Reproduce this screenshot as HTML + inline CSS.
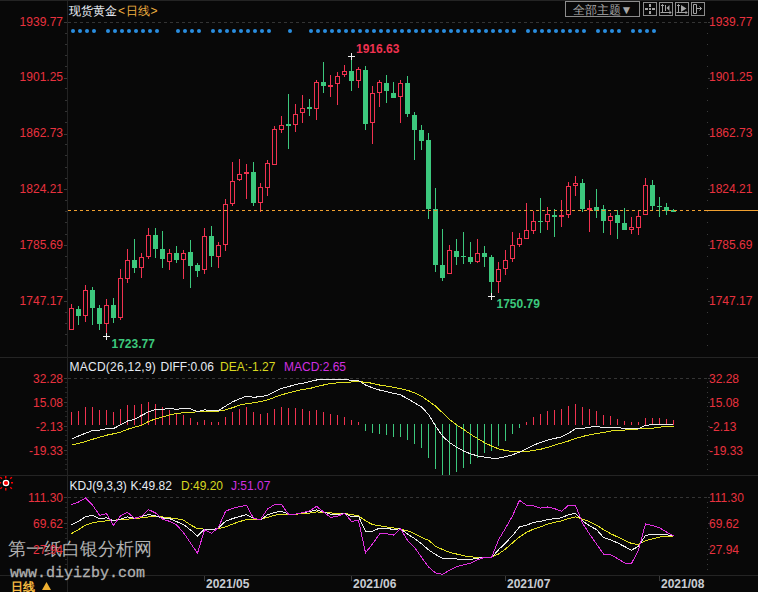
<!DOCTYPE html>
<html><head><meta charset="utf-8"><style>
html,body{margin:0;padding:0;background:#080808;width:758px;height:592px;overflow:hidden;position:relative;}
</style></head><body>
<svg width="758" height="592" style="position:absolute;left:0;top:0">
<style>
text{font-family:"Liberation Sans",sans-serif;}
.ax{font-size:12px;}
.bd{font-size:12px;font-weight:bold;}
.dt{font-size:12px;font-weight:bold;fill:#c8ccd2;}
.tt{font-size:12px;}
</style>
<rect width="758" height="592" fill="#080808"/>
<rect x="0" y="0" width="758" height="1" fill="#242424"/><rect x="0" y="357" width="758" height="1" fill="#242424"/><rect x="0" y="475" width="758" height="1" fill="#242424"/><rect x="0" y="575" width="758" height="1" fill="#242424"/><rect x="67" y="0" width="1" height="592" fill="#232323"/><line x1="68" y1="22.5" x2="707" y2="22.5" stroke="#343434" stroke-width="1" stroke-dasharray="3 3"/><line x1="68" y1="378.5" x2="707" y2="378.5" stroke="#343434" stroke-width="1" stroke-dasharray="3 3"/><line x1="68" y1="497.5" x2="707" y2="497.5" stroke="#343434" stroke-width="1" stroke-dasharray="3 3"/><rect x="64" y="22" width="3" height="1" fill="#3a3a3a"/><rect x="708" y="22" width="2" height="1" fill="#3a3a3a"/><rect x="64" y="78" width="3" height="1" fill="#3a3a3a"/><rect x="708" y="78" width="2" height="1" fill="#3a3a3a"/><rect x="64" y="134" width="3" height="1" fill="#3a3a3a"/><rect x="708" y="134" width="2" height="1" fill="#3a3a3a"/><rect x="64" y="189" width="3" height="1" fill="#3a3a3a"/><rect x="708" y="189" width="2" height="1" fill="#3a3a3a"/><rect x="64" y="245" width="3" height="1" fill="#3a3a3a"/><rect x="708" y="245" width="2" height="1" fill="#3a3a3a"/><rect x="64" y="301" width="3" height="1" fill="#3a3a3a"/><rect x="708" y="301" width="2" height="1" fill="#3a3a3a"/><rect x="65" y="33" width="2" height="1" fill="#333"/><rect x="707" y="33" width="1" height="1" fill="#3a3a3a"/><rect x="65" y="44" width="2" height="1" fill="#333"/><rect x="707" y="44" width="1" height="1" fill="#3a3a3a"/><rect x="65" y="55" width="2" height="1" fill="#333"/><rect x="707" y="55" width="1" height="1" fill="#3a3a3a"/><rect x="65" y="66" width="2" height="1" fill="#333"/><rect x="707" y="66" width="1" height="1" fill="#3a3a3a"/><rect x="65" y="88" width="2" height="1" fill="#333"/><rect x="707" y="88" width="1" height="1" fill="#3a3a3a"/><rect x="65" y="100" width="2" height="1" fill="#333"/><rect x="707" y="100" width="1" height="1" fill="#3a3a3a"/><rect x="65" y="111" width="2" height="1" fill="#333"/><rect x="707" y="111" width="1" height="1" fill="#3a3a3a"/><rect x="65" y="122" width="2" height="1" fill="#333"/><rect x="707" y="122" width="1" height="1" fill="#3a3a3a"/><rect x="65" y="144" width="2" height="1" fill="#333"/><rect x="707" y="144" width="1" height="1" fill="#3a3a3a"/><rect x="65" y="155" width="2" height="1" fill="#333"/><rect x="707" y="155" width="1" height="1" fill="#3a3a3a"/><rect x="65" y="167" width="2" height="1" fill="#333"/><rect x="707" y="167" width="1" height="1" fill="#3a3a3a"/><rect x="65" y="178" width="2" height="1" fill="#333"/><rect x="707" y="178" width="1" height="1" fill="#3a3a3a"/><rect x="65" y="200" width="2" height="1" fill="#333"/><rect x="707" y="200" width="1" height="1" fill="#3a3a3a"/><rect x="65" y="211" width="2" height="1" fill="#333"/><rect x="707" y="211" width="1" height="1" fill="#3a3a3a"/><rect x="65" y="222" width="2" height="1" fill="#333"/><rect x="707" y="222" width="1" height="1" fill="#3a3a3a"/><rect x="65" y="234" width="2" height="1" fill="#333"/><rect x="707" y="234" width="1" height="1" fill="#3a3a3a"/><rect x="65" y="256" width="2" height="1" fill="#333"/><rect x="707" y="256" width="1" height="1" fill="#3a3a3a"/><rect x="65" y="267" width="2" height="1" fill="#333"/><rect x="707" y="267" width="1" height="1" fill="#3a3a3a"/><rect x="65" y="278" width="2" height="1" fill="#333"/><rect x="707" y="278" width="1" height="1" fill="#3a3a3a"/><rect x="65" y="289" width="2" height="1" fill="#333"/><rect x="707" y="289" width="1" height="1" fill="#3a3a3a"/><rect x="65" y="312" width="2" height="1" fill="#333"/><rect x="707" y="312" width="1" height="1" fill="#3a3a3a"/><rect x="65" y="323" width="2" height="1" fill="#333"/><rect x="707" y="323" width="1" height="1" fill="#3a3a3a"/><rect x="65" y="334" width="2" height="1" fill="#333"/><rect x="707" y="334" width="1" height="1" fill="#3a3a3a"/><rect x="65" y="345" width="2" height="1" fill="#333"/><rect x="707" y="345" width="1" height="1" fill="#3a3a3a"/><rect x="64" y="378" width="3" height="1" fill="#3a3a3a"/><rect x="708" y="378" width="2" height="1" fill="#3a3a3a"/><rect x="64" y="402" width="3" height="1" fill="#3a3a3a"/><rect x="708" y="402" width="2" height="1" fill="#3a3a3a"/><rect x="64" y="426" width="3" height="1" fill="#3a3a3a"/><rect x="708" y="426" width="2" height="1" fill="#3a3a3a"/><rect x="64" y="450" width="3" height="1" fill="#3a3a3a"/><rect x="708" y="450" width="2" height="1" fill="#3a3a3a"/><rect x="65" y="382" width="2" height="1" fill="#262626"/><rect x="707" y="382" width="1" height="1" fill="#3a3a3a"/><rect x="65" y="387" width="2" height="1" fill="#262626"/><rect x="707" y="387" width="1" height="1" fill="#3a3a3a"/><rect x="65" y="392" width="2" height="1" fill="#262626"/><rect x="707" y="392" width="1" height="1" fill="#3a3a3a"/><rect x="65" y="397" width="2" height="1" fill="#262626"/><rect x="707" y="397" width="1" height="1" fill="#3a3a3a"/><rect x="65" y="406" width="2" height="1" fill="#262626"/><rect x="707" y="406" width="1" height="1" fill="#3a3a3a"/><rect x="65" y="411" width="2" height="1" fill="#262626"/><rect x="707" y="411" width="1" height="1" fill="#3a3a3a"/><rect x="65" y="416" width="2" height="1" fill="#262626"/><rect x="707" y="416" width="1" height="1" fill="#3a3a3a"/><rect x="65" y="421" width="2" height="1" fill="#262626"/><rect x="707" y="421" width="1" height="1" fill="#3a3a3a"/><rect x="65" y="430" width="2" height="1" fill="#262626"/><rect x="707" y="430" width="1" height="1" fill="#3a3a3a"/><rect x="65" y="435" width="2" height="1" fill="#262626"/><rect x="707" y="435" width="1" height="1" fill="#3a3a3a"/><rect x="65" y="440" width="2" height="1" fill="#262626"/><rect x="707" y="440" width="1" height="1" fill="#3a3a3a"/><rect x="65" y="445" width="2" height="1" fill="#262626"/><rect x="707" y="445" width="1" height="1" fill="#3a3a3a"/><rect x="65" y="454" width="2" height="1" fill="#262626"/><rect x="707" y="454" width="1" height="1" fill="#3a3a3a"/><rect x="65" y="459" width="2" height="1" fill="#262626"/><rect x="707" y="459" width="1" height="1" fill="#3a3a3a"/><rect x="65" y="464" width="2" height="1" fill="#262626"/><rect x="707" y="464" width="1" height="1" fill="#3a3a3a"/><rect x="65" y="469" width="2" height="1" fill="#262626"/><rect x="707" y="469" width="1" height="1" fill="#3a3a3a"/><rect x="64" y="497" width="3" height="1" fill="#3a3a3a"/><rect x="708" y="497" width="2" height="1" fill="#3a3a3a"/><rect x="64" y="523" width="3" height="1" fill="#3a3a3a"/><rect x="708" y="523" width="2" height="1" fill="#3a3a3a"/><rect x="64" y="549" width="3" height="1" fill="#3a3a3a"/><rect x="708" y="549" width="2" height="1" fill="#3a3a3a"/><rect x="65" y="502" width="2" height="1" fill="#262626"/><rect x="707" y="502" width="1" height="1" fill="#3a3a3a"/><rect x="65" y="507" width="2" height="1" fill="#262626"/><rect x="707" y="507" width="1" height="1" fill="#3a3a3a"/><rect x="65" y="512" width="2" height="1" fill="#262626"/><rect x="707" y="512" width="1" height="1" fill="#3a3a3a"/><rect x="65" y="517" width="2" height="1" fill="#262626"/><rect x="707" y="517" width="1" height="1" fill="#3a3a3a"/><rect x="65" y="528" width="2" height="1" fill="#262626"/><rect x="707" y="528" width="1" height="1" fill="#3a3a3a"/><rect x="65" y="533" width="2" height="1" fill="#262626"/><rect x="707" y="533" width="1" height="1" fill="#3a3a3a"/><rect x="65" y="538" width="2" height="1" fill="#262626"/><rect x="707" y="538" width="1" height="1" fill="#3a3a3a"/><rect x="65" y="543" width="2" height="1" fill="#262626"/><rect x="707" y="543" width="1" height="1" fill="#3a3a3a"/><rect x="65" y="554" width="2" height="1" fill="#262626"/><rect x="707" y="554" width="1" height="1" fill="#3a3a3a"/><rect x="65" y="559" width="2" height="1" fill="#262626"/><rect x="707" y="559" width="1" height="1" fill="#3a3a3a"/><rect x="65" y="564" width="2" height="1" fill="#262626"/><rect x="707" y="564" width="1" height="1" fill="#3a3a3a"/><rect x="65" y="569" width="2" height="1" fill="#262626"/><rect x="707" y="569" width="1" height="1" fill="#3a3a3a"/><rect x="204" y="576" width="1" height="5" fill="#3a3a3a"/><rect x="351" y="576" width="1" height="5" fill="#3a3a3a"/><rect x="505" y="576" width="1" height="5" fill="#3a3a3a"/><rect x="659" y="576" width="1" height="5" fill="#3a3a3a"/>
<circle cx="73" cy="31" r="2" fill="#2a8ee0"/><circle cx="80" cy="31" r="2" fill="#2a8ee0"/><circle cx="87" cy="31" r="2" fill="#2a8ee0"/><circle cx="94" cy="31" r="2" fill="#2a8ee0"/><circle cx="108" cy="31" r="2" fill="#2a8ee0"/><circle cx="115" cy="31" r="2" fill="#2a8ee0"/><circle cx="122" cy="31" r="2" fill="#2a8ee0"/><circle cx="129" cy="31" r="2" fill="#2a8ee0"/><circle cx="136" cy="31" r="2" fill="#2a8ee0"/><circle cx="143" cy="31" r="2" fill="#2a8ee0"/><circle cx="150" cy="31" r="2" fill="#2a8ee0"/><circle cx="157" cy="31" r="2" fill="#2a8ee0"/><circle cx="178" cy="31" r="2" fill="#2a8ee0"/><circle cx="185" cy="31" r="2" fill="#2a8ee0"/><circle cx="192" cy="31" r="2" fill="#2a8ee0"/><circle cx="199" cy="31" r="2" fill="#2a8ee0"/><circle cx="213" cy="31" r="2" fill="#2a8ee0"/><circle cx="220" cy="31" r="2" fill="#2a8ee0"/><circle cx="227" cy="31" r="2" fill="#2a8ee0"/><circle cx="234" cy="31" r="2" fill="#2a8ee0"/><circle cx="241" cy="31" r="2" fill="#2a8ee0"/><circle cx="248" cy="31" r="2" fill="#2a8ee0"/><circle cx="255" cy="31" r="2" fill="#2a8ee0"/><circle cx="262" cy="31" r="2" fill="#2a8ee0"/><circle cx="269" cy="31" r="2" fill="#2a8ee0"/><circle cx="290" cy="31" r="2" fill="#2a8ee0"/><circle cx="311" cy="31" r="2" fill="#2a8ee0"/><circle cx="318" cy="31" r="2" fill="#2a8ee0"/><circle cx="325" cy="31" r="2" fill="#2a8ee0"/><circle cx="332" cy="31" r="2" fill="#2a8ee0"/><circle cx="339" cy="31" r="2" fill="#2a8ee0"/><circle cx="346" cy="31" r="2" fill="#2a8ee0"/><circle cx="353" cy="31" r="2" fill="#2a8ee0"/><circle cx="360" cy="31" r="2" fill="#2a8ee0"/><circle cx="367" cy="31" r="2" fill="#2a8ee0"/><circle cx="374" cy="31" r="2" fill="#2a8ee0"/><circle cx="381" cy="31" r="2" fill="#2a8ee0"/><circle cx="388" cy="31" r="2" fill="#2a8ee0"/><circle cx="395" cy="31" r="2" fill="#2a8ee0"/><circle cx="402" cy="31" r="2" fill="#2a8ee0"/><circle cx="409" cy="31" r="2" fill="#2a8ee0"/><circle cx="416" cy="31" r="2" fill="#2a8ee0"/><circle cx="423" cy="31" r="2" fill="#2a8ee0"/><circle cx="430" cy="31" r="2" fill="#2a8ee0"/><circle cx="437" cy="31" r="2" fill="#2a8ee0"/><circle cx="444" cy="31" r="2" fill="#2a8ee0"/><circle cx="451" cy="31" r="2" fill="#2a8ee0"/><circle cx="458" cy="31" r="2" fill="#2a8ee0"/><circle cx="465" cy="31" r="2" fill="#2a8ee0"/><circle cx="472" cy="31" r="2" fill="#2a8ee0"/><circle cx="479" cy="31" r="2" fill="#2a8ee0"/><circle cx="486" cy="31" r="2" fill="#2a8ee0"/><circle cx="493" cy="31" r="2" fill="#2a8ee0"/><circle cx="500" cy="31" r="2" fill="#2a8ee0"/><circle cx="507" cy="31" r="2" fill="#2a8ee0"/><circle cx="514" cy="31" r="2" fill="#2a8ee0"/><circle cx="528" cy="31" r="2" fill="#2a8ee0"/><circle cx="535" cy="31" r="2" fill="#2a8ee0"/><circle cx="542" cy="31" r="2" fill="#2a8ee0"/><circle cx="549" cy="31" r="2" fill="#2a8ee0"/><circle cx="556" cy="31" r="2" fill="#2a8ee0"/><circle cx="563" cy="31" r="2" fill="#2a8ee0"/><circle cx="570" cy="31" r="2" fill="#2a8ee0"/><circle cx="577" cy="31" r="2" fill="#2a8ee0"/><circle cx="584" cy="31" r="2" fill="#2a8ee0"/><circle cx="598" cy="31" r="2" fill="#2a8ee0"/><circle cx="605" cy="31" r="2" fill="#2a8ee0"/><circle cx="612" cy="31" r="2" fill="#2a8ee0"/><circle cx="619" cy="31" r="2" fill="#2a8ee0"/><circle cx="633" cy="31" r="2" fill="#2a8ee0"/><circle cx="640" cy="31" r="2" fill="#2a8ee0"/><circle cx="647" cy="31" r="2" fill="#2a8ee0"/><circle cx="654" cy="31" r="2" fill="#2a8ee0"/>
<rect x="71" y="304" width="1" height="26" fill="#f03250"/><rect x="69.5" y="308.5" width="4" height="21" fill="#080808" stroke="#f03250" stroke-width="1"/><rect x="78" y="306" width="1" height="19" fill="#3cc87d"/><rect x="76" y="309" width="5" height="7" fill="#3cc87d"/><rect x="85" y="285" width="1" height="37" fill="#f03250"/><rect x="83.5" y="290.5" width="4" height="25" fill="#080808" stroke="#f03250" stroke-width="1"/><rect x="92" y="287" width="1" height="38" fill="#3cc87d"/><rect x="90" y="290" width="5" height="18" fill="#3cc87d"/><rect x="99" y="305" width="1" height="25" fill="#3cc87d"/><rect x="97" y="308" width="5" height="16" fill="#3cc87d"/><rect x="106" y="299" width="1" height="36" fill="#f03250"/><rect x="104.5" y="305.5" width="4" height="18" fill="#080808" stroke="#f03250" stroke-width="1"/><rect x="113" y="298" width="1" height="25" fill="#3cc87d"/><rect x="111" y="305" width="5" height="13" fill="#3cc87d"/><rect x="120" y="269" width="1" height="51" fill="#f03250"/><rect x="118.5" y="278.5" width="4" height="39" fill="#080808" stroke="#f03250" stroke-width="1"/><rect x="127" y="249" width="1" height="34" fill="#f03250"/><rect x="125.5" y="260.5" width="4" height="18" fill="#080808" stroke="#f03250" stroke-width="1"/><rect x="134" y="239" width="1" height="34" fill="#3cc87d"/><rect x="132" y="260" width="5" height="8" fill="#3cc87d"/><rect x="141" y="253" width="1" height="25" fill="#f03250"/><rect x="139.5" y="257.5" width="4" height="10" fill="#080808" stroke="#f03250" stroke-width="1"/><rect x="148" y="228" width="1" height="31" fill="#f03250"/><rect x="146.5" y="235.5" width="4" height="21" fill="#080808" stroke="#f03250" stroke-width="1"/><rect x="155" y="228" width="1" height="30" fill="#3cc87d"/><rect x="153" y="235" width="5" height="14" fill="#3cc87d"/><rect x="162" y="231" width="1" height="37" fill="#3cc87d"/><rect x="160" y="249" width="5" height="10" fill="#3cc87d"/><rect x="169" y="249" width="1" height="21" fill="#f03250"/><rect x="167.5" y="253.5" width="4" height="8" fill="#080808" stroke="#f03250" stroke-width="1"/><rect x="176" y="246" width="1" height="17" fill="#3cc87d"/><rect x="174" y="253" width="5" height="7" fill="#3cc87d"/><rect x="183" y="250" width="1" height="29" fill="#f03250"/><rect x="181.5" y="253.5" width="4" height="6" fill="#080808" stroke="#f03250" stroke-width="1"/><rect x="190" y="240" width="1" height="48" fill="#3cc87d"/><rect x="188" y="252" width="5" height="14" fill="#3cc87d"/><rect x="197" y="263" width="1" height="14" fill="#3cc87d"/><rect x="195" y="265" width="5" height="6" fill="#3cc87d"/><rect x="204" y="228" width="1" height="46" fill="#f03250"/><rect x="202.5" y="236.5" width="4" height="33" fill="#080808" stroke="#f03250" stroke-width="1"/><rect x="211" y="226" width="1" height="41" fill="#3cc87d"/><rect x="209" y="236" width="5" height="20" fill="#3cc87d"/><rect x="218" y="242" width="1" height="26" fill="#f03250"/><rect x="216.5" y="245.5" width="4" height="11" fill="#080808" stroke="#f03250" stroke-width="1"/><rect x="225" y="199" width="1" height="52" fill="#f03250"/><rect x="223.5" y="204.5" width="4" height="40" fill="#080808" stroke="#f03250" stroke-width="1"/><rect x="232" y="162" width="1" height="44" fill="#f03250"/><rect x="230.5" y="181.5" width="4" height="22" fill="#080808" stroke="#f03250" stroke-width="1"/><rect x="239" y="159" width="1" height="22" fill="#f03250"/><rect x="237.5" y="174.5" width="4" height="5" fill="#080808" stroke="#f03250" stroke-width="1"/><rect x="246" y="164" width="1" height="35" fill="#f03250"/><rect x="244.5" y="172.5" width="4" height="1" fill="#080808" stroke="#f03250" stroke-width="1"/><rect x="253" y="162" width="1" height="44" fill="#3cc87d"/><rect x="251" y="172" width="5" height="31" fill="#3cc87d"/><rect x="260" y="183" width="1" height="29" fill="#f03250"/><rect x="258.5" y="187.5" width="4" height="15" fill="#080808" stroke="#f03250" stroke-width="1"/><rect x="267" y="160" width="1" height="36" fill="#f03250"/><rect x="265.5" y="163.5" width="4" height="24" fill="#080808" stroke="#f03250" stroke-width="1"/><rect x="274" y="126" width="1" height="39" fill="#f03250"/><rect x="272.5" y="129.5" width="4" height="35" fill="#080808" stroke="#f03250" stroke-width="1"/><rect x="281" y="116" width="1" height="17" fill="#f03250"/><rect x="279.5" y="125.5" width="4" height="4" fill="#080808" stroke="#f03250" stroke-width="1"/><rect x="288" y="94" width="1" height="55" fill="#3cc87d"/><rect x="286" y="124" width="5" height="2" fill="#3cc87d"/><rect x="295" y="104" width="1" height="28" fill="#f03250"/><rect x="293.5" y="114.5" width="4" height="10" fill="#080808" stroke="#f03250" stroke-width="1"/><rect x="302" y="95" width="1" height="28" fill="#f03250"/><rect x="300.5" y="108.5" width="4" height="4" fill="#080808" stroke="#f03250" stroke-width="1"/><rect x="309" y="99" width="1" height="17" fill="#3cc87d"/><rect x="307" y="107" width="5" height="2" fill="#3cc87d"/><rect x="316" y="80" width="1" height="40" fill="#f03250"/><rect x="314.5" y="82.5" width="4" height="26" fill="#080808" stroke="#f03250" stroke-width="1"/><rect x="323" y="62" width="1" height="31" fill="#3cc87d"/><rect x="321" y="82" width="5" height="4" fill="#3cc87d"/><rect x="330" y="75" width="1" height="22" fill="#f03250"/><rect x="328.5" y="85.5" width="4" height="1" fill="#080808" stroke="#f03250" stroke-width="1"/><rect x="337" y="72" width="1" height="33" fill="#f03250"/><rect x="335.5" y="76.5" width="4" height="7" fill="#080808" stroke="#f03250" stroke-width="1"/><rect x="344" y="65" width="1" height="12" fill="#f03250"/><rect x="342.5" y="71.5" width="4" height="3" fill="#080808" stroke="#f03250" stroke-width="1"/><rect x="351" y="56" width="1" height="35" fill="#3cc87d"/><rect x="349" y="71" width="5" height="10" fill="#3cc87d"/><rect x="358" y="67" width="1" height="21" fill="#f03250"/><rect x="356.5" y="69.5" width="4" height="11" fill="#080808" stroke="#f03250" stroke-width="1"/><rect x="365" y="66" width="1" height="64" fill="#3cc87d"/><rect x="363" y="70" width="5" height="54" fill="#3cc87d"/><rect x="372" y="86" width="1" height="58" fill="#f03250"/><rect x="370.5" y="93.5" width="4" height="29" fill="#080808" stroke="#f03250" stroke-width="1"/><rect x="379" y="80" width="1" height="27" fill="#f03250"/><rect x="377.5" y="82.5" width="4" height="10" fill="#080808" stroke="#f03250" stroke-width="1"/><rect x="386" y="75" width="1" height="28" fill="#3cc87d"/><rect x="384" y="83" width="5" height="8" fill="#3cc87d"/><rect x="393" y="82" width="1" height="16" fill="#3cc87d"/><rect x="391" y="93" width="5" height="5" fill="#3cc87d"/><rect x="400" y="80" width="1" height="43" fill="#f03250"/><rect x="398.5" y="83.5" width="4" height="13" fill="#080808" stroke="#f03250" stroke-width="1"/><rect x="407" y="76" width="1" height="41" fill="#3cc87d"/><rect x="405" y="83" width="5" height="31" fill="#3cc87d"/><rect x="414" y="112" width="1" height="48" fill="#3cc87d"/><rect x="412" y="115" width="5" height="15" fill="#3cc87d"/><rect x="421" y="125" width="1" height="25" fill="#3cc87d"/><rect x="419" y="130" width="5" height="11" fill="#3cc87d"/><rect x="428" y="133" width="1" height="86" fill="#3cc87d"/><rect x="426" y="140" width="5" height="69" fill="#3cc87d"/><rect x="435" y="188" width="1" height="84" fill="#3cc87d"/><rect x="433" y="209" width="5" height="56" fill="#3cc87d"/><rect x="442" y="229" width="1" height="52" fill="#3cc87d"/><rect x="440" y="265" width="5" height="13" fill="#3cc87d"/><rect x="449" y="245" width="1" height="29" fill="#f03250"/><rect x="447.5" y="250.5" width="4" height="23" fill="#080808" stroke="#f03250" stroke-width="1"/><rect x="456" y="239" width="1" height="26" fill="#3cc87d"/><rect x="454" y="251" width="5" height="6" fill="#3cc87d"/><rect x="463" y="232" width="1" height="32" fill="#3cc87d"/><rect x="461" y="256" width="5" height="1" fill="#3cc87d"/><rect x="470" y="242" width="1" height="22" fill="#3cc87d"/><rect x="468" y="257" width="5" height="5" fill="#3cc87d"/><rect x="477" y="239" width="1" height="24" fill="#f03250"/><rect x="475.5" y="253.5" width="4" height="8" fill="#080808" stroke="#f03250" stroke-width="1"/><rect x="484" y="246" width="1" height="21" fill="#3cc87d"/><rect x="482" y="253" width="5" height="4" fill="#3cc87d"/><rect x="491" y="255" width="1" height="41" fill="#3cc87d"/><rect x="489" y="257" width="5" height="25" fill="#3cc87d"/><rect x="498" y="262" width="1" height="31" fill="#f03250"/><rect x="496.5" y="269.5" width="4" height="12" fill="#080808" stroke="#f03250" stroke-width="1"/><rect x="505" y="250" width="1" height="25" fill="#f03250"/><rect x="503.5" y="260.5" width="4" height="8" fill="#080808" stroke="#f03250" stroke-width="1"/><rect x="512" y="232" width="1" height="30" fill="#f03250"/><rect x="510.5" y="245.5" width="4" height="13" fill="#080808" stroke="#f03250" stroke-width="1"/><rect x="519" y="233" width="1" height="14" fill="#f03250"/><rect x="517.5" y="238.5" width="4" height="6" fill="#080808" stroke="#f03250" stroke-width="1"/><rect x="526" y="203" width="1" height="36" fill="#f03250"/><rect x="524.5" y="230.5" width="4" height="8" fill="#080808" stroke="#f03250" stroke-width="1"/><rect x="533" y="211" width="1" height="23" fill="#f03250"/><rect x="531.5" y="221.5" width="4" height="9" fill="#080808" stroke="#f03250" stroke-width="1"/><rect x="540" y="198" width="1" height="35" fill="#3cc87d"/><rect x="538" y="221" width="5" height="1" fill="#3cc87d"/><rect x="547" y="207" width="1" height="23" fill="#f03250"/><rect x="545.5" y="214.5" width="4" height="7" fill="#080808" stroke="#f03250" stroke-width="1"/><rect x="554" y="209" width="1" height="28" fill="#3cc87d"/><rect x="552" y="215" width="5" height="2" fill="#3cc87d"/><rect x="561" y="200" width="1" height="27" fill="#f03250"/><rect x="559.5" y="215.5" width="4" height="1" fill="#080808" stroke="#f03250" stroke-width="1"/><rect x="568" y="182" width="1" height="36" fill="#f03250"/><rect x="566.5" y="186.5" width="4" height="28" fill="#080808" stroke="#f03250" stroke-width="1"/><rect x="575" y="176" width="1" height="20" fill="#f03250"/><rect x="573.5" y="183.5" width="4" height="2" fill="#080808" stroke="#f03250" stroke-width="1"/><rect x="582" y="179" width="1" height="33" fill="#3cc87d"/><rect x="580" y="183" width="5" height="26" fill="#3cc87d"/><rect x="589" y="200" width="1" height="32" fill="#f03250"/><rect x="587.5" y="208.5" width="4" height="1" fill="#080808" stroke="#f03250" stroke-width="1"/><rect x="596" y="189" width="1" height="29" fill="#3cc87d"/><rect x="594" y="207" width="5" height="4" fill="#3cc87d"/><rect x="603" y="205" width="1" height="28" fill="#3cc87d"/><rect x="601" y="209" width="5" height="12" fill="#3cc87d"/><rect x="610" y="213" width="1" height="22" fill="#f03250"/><rect x="608.5" y="216.5" width="4" height="4" fill="#080808" stroke="#f03250" stroke-width="1"/><rect x="617" y="210" width="1" height="29" fill="#3cc87d"/><rect x="615" y="215" width="5" height="8" fill="#3cc87d"/><rect x="624" y="208" width="1" height="22" fill="#3cc87d"/><rect x="622" y="223" width="5" height="7" fill="#3cc87d"/><rect x="631" y="217" width="1" height="17" fill="#f03250"/><rect x="629.5" y="227.5" width="4" height="2" fill="#080808" stroke="#f03250" stroke-width="1"/><rect x="638" y="211" width="1" height="24" fill="#f03250"/><rect x="636.5" y="216.5" width="4" height="11" fill="#080808" stroke="#f03250" stroke-width="1"/><rect x="645" y="178" width="1" height="37" fill="#f03250"/><rect x="643.5" y="185.5" width="4" height="29" fill="#080808" stroke="#f03250" stroke-width="1"/><rect x="652" y="180" width="1" height="31" fill="#3cc87d"/><rect x="650" y="185" width="5" height="21" fill="#3cc87d"/><rect x="659" y="197" width="1" height="20" fill="#3cc87d"/><rect x="657" y="206" width="5" height="1" fill="#3cc87d"/><rect x="666" y="203" width="1" height="12" fill="#3cc87d"/><rect x="664" y="207" width="5" height="4" fill="#3cc87d"/><rect x="673" y="209" width="1" height="3" fill="#3cc87d"/><rect x="671" y="210" width="5" height="2" fill="#3cc87d"/>
<line x1="68" y1="210.5" x2="704" y2="210.5" stroke="#f0a030" stroke-width="1" stroke-dasharray="3 3"/><rect x="704" y="210" width="54" height="1" fill="#f0a030"/>
<rect x="348" y="56" width="7" height="1" fill="#f0f0f0"/><rect x="351" y="53" width="1" height="7" fill="#f0f0f0"/><rect x="103" y="336" width="7" height="1" fill="#f0f0f0"/><rect x="106" y="333" width="1" height="7" fill="#f0f0f0"/><rect x="488" y="296" width="7" height="1" fill="#f0f0f0"/><rect x="491" y="293" width="1" height="7" fill="#f0f0f0"/><text x="356" y="52.8" class="bd" fill="#f03250">1916.63</text><text x="111.5" y="348" class="bd" fill="#3cc87d">1723.77</text><text x="496.5" y="308" class="bd" fill="#3cc87d">1750.79</text>
<rect x="71" y="412" width="1" height="13" fill="#f03250"/><rect x="78" y="411" width="1" height="14" fill="#f03250"/><rect x="85" y="407" width="1" height="18" fill="#f03250"/><rect x="92" y="407" width="1" height="18" fill="#f03250"/><rect x="99" y="410" width="1" height="15" fill="#f03250"/><rect x="106" y="410" width="1" height="15" fill="#f03250"/><rect x="113" y="412" width="1" height="13" fill="#f03250"/><rect x="120" y="409" width="1" height="16" fill="#f03250"/><rect x="127" y="405" width="1" height="20" fill="#f03250"/><rect x="134" y="405" width="1" height="20" fill="#f03250"/><rect x="141" y="404" width="1" height="21" fill="#f03250"/><rect x="148" y="402" width="1" height="23" fill="#f03250"/><rect x="155" y="404" width="1" height="21" fill="#f03250"/><rect x="162" y="407" width="1" height="18" fill="#f03250"/><rect x="169" y="410" width="1" height="15" fill="#f03250"/><rect x="176" y="413" width="1" height="12" fill="#f03250"/><rect x="183" y="415" width="1" height="10" fill="#f03250"/><rect x="190" y="418" width="1" height="7" fill="#f03250"/><rect x="197" y="422" width="1" height="3" fill="#f03250"/><rect x="204" y="420" width="1" height="5" fill="#f03250"/><rect x="211" y="422" width="1" height="3" fill="#f03250"/><rect x="218" y="422" width="1" height="3" fill="#f03250"/><rect x="225" y="417" width="1" height="8" fill="#f03250"/><rect x="232" y="412" width="1" height="13" fill="#f03250"/><rect x="239" y="409" width="1" height="16" fill="#f03250"/><rect x="246" y="407" width="1" height="18" fill="#f03250"/><rect x="253" y="412" width="1" height="13" fill="#f03250"/><rect x="260" y="414" width="1" height="11" fill="#f03250"/><rect x="267" y="413" width="1" height="12" fill="#f03250"/><rect x="274" y="409" width="1" height="16" fill="#f03250"/><rect x="281" y="407" width="1" height="18" fill="#f03250"/><rect x="288" y="408" width="1" height="17" fill="#f03250"/><rect x="295" y="408" width="1" height="17" fill="#f03250"/><rect x="302" y="409" width="1" height="16" fill="#f03250"/><rect x="309" y="411" width="1" height="14" fill="#f03250"/><rect x="316" y="410" width="1" height="15" fill="#f03250"/><rect x="323" y="412" width="1" height="13" fill="#f03250"/><rect x="330" y="414" width="1" height="11" fill="#f03250"/><rect x="337" y="415" width="1" height="10" fill="#f03250"/><rect x="344" y="417" width="1" height="8" fill="#f03250"/><rect x="351" y="420" width="1" height="5" fill="#f03250"/><rect x="358" y="422" width="1" height="3" fill="#f03250"/><rect x="365" y="424" width="1" height="7" fill="#3cc87d"/><rect x="372" y="424" width="1" height="9" fill="#3cc87d"/><rect x="379" y="424" width="1" height="10" fill="#3cc87d"/><rect x="386" y="424" width="1" height="11" fill="#3cc87d"/><rect x="393" y="424" width="1" height="13" fill="#3cc87d"/><rect x="400" y="424" width="1" height="13" fill="#3cc87d"/><rect x="407" y="424" width="1" height="16" fill="#3cc87d"/><rect x="414" y="424" width="1" height="20" fill="#3cc87d"/><rect x="421" y="424" width="1" height="24" fill="#3cc87d"/><rect x="428" y="424" width="1" height="34" fill="#3cc87d"/><rect x="435" y="424" width="1" height="45" fill="#3cc87d"/><rect x="442" y="424" width="1" height="51" fill="#3cc87d"/><rect x="449" y="424" width="1" height="51" fill="#3cc87d"/><rect x="456" y="424" width="1" height="48" fill="#3cc87d"/><rect x="463" y="424" width="1" height="44" fill="#3cc87d"/><rect x="470" y="424" width="1" height="40" fill="#3cc87d"/><rect x="477" y="424" width="1" height="34" fill="#3cc87d"/><rect x="484" y="424" width="1" height="29" fill="#3cc87d"/><rect x="491" y="424" width="1" height="27" fill="#3cc87d"/><rect x="498" y="424" width="1" height="22" fill="#3cc87d"/><rect x="505" y="424" width="1" height="17" fill="#3cc87d"/><rect x="512" y="424" width="1" height="10" fill="#3cc87d"/><rect x="519" y="424" width="1" height="4" fill="#3cc87d"/><rect x="526" y="422" width="1" height="3" fill="#f03250"/><rect x="533" y="417" width="1" height="8" fill="#f03250"/><rect x="540" y="414" width="1" height="11" fill="#f03250"/><rect x="547" y="411" width="1" height="14" fill="#f03250"/><rect x="554" y="410" width="1" height="15" fill="#f03250"/><rect x="561" y="409" width="1" height="16" fill="#f03250"/><rect x="568" y="406" width="1" height="19" fill="#f03250"/><rect x="575" y="404" width="1" height="21" fill="#f03250"/><rect x="582" y="407" width="1" height="18" fill="#f03250"/><rect x="589" y="409" width="1" height="16" fill="#f03250"/><rect x="596" y="411" width="1" height="14" fill="#f03250"/><rect x="603" y="415" width="1" height="10" fill="#f03250"/><rect x="610" y="416" width="1" height="9" fill="#f03250"/><rect x="617" y="419" width="1" height="6" fill="#f03250"/><rect x="624" y="421" width="1" height="4" fill="#f03250"/><rect x="631" y="422" width="1" height="3" fill="#f03250"/><rect x="638" y="422" width="1" height="3" fill="#f03250"/><rect x="645" y="418" width="1" height="7" fill="#f03250"/><rect x="652" y="418" width="1" height="7" fill="#f03250"/><rect x="659" y="418" width="1" height="7" fill="#f03250"/><rect x="666" y="419" width="1" height="6" fill="#f03250"/><rect x="673" y="420" width="1" height="5" fill="#f03250"/><polyline points="71.5,445.1 78.5,443.5 85.5,441.5 92.5,439.3 99.5,437.2 106.5,435.2 113.5,433.8 120.5,432.2 127.5,429.3 134.5,427.2 141.5,425.2 148.5,421.5 155.5,418.9 162.5,416.9 169.5,414.9 176.5,413.6 183.5,412.7 190.5,412.2 197.5,411.9 204.5,411.6 211.5,411.1 218.5,411.1 225.5,409.9 232.5,407.7 239.5,405.2 246.5,403.6 253.5,402.8 260.5,401.6 267.5,399.9 274.5,397.3 281.5,394.9 288.5,392.8 295.5,391.1 302.5,389.5 309.5,388.6 316.5,386.6 323.5,385 330.5,383.6 337.5,382.8 344.5,382.3 351.5,382 358.5,381.6 365.5,382.3 372.5,383.3 379.5,385 386.5,386.1 393.5,387.3 400.5,388.6 407.5,390.3 414.5,392.8 421.5,396.1 428.5,401.1 435.5,406.1 442.5,412.7 449.5,419.4 456.5,424.9 463.5,429.3 470.5,434.3 477.5,438.5 484.5,442.6 491.5,446 498.5,448.8 505.5,450.5 512.5,451.5 519.5,451.8 526.5,451.5 533.5,450.5 540.5,449.3 547.5,447.4 554.5,445.1 561.5,443.1 568.5,441 575.5,438.5 582.5,436.5 589.5,434.8 596.5,433.5 603.5,432.4 610.5,431.1 617.5,430.2 624.5,430.1 631.5,429.4 638.5,429 645.5,428.4 652.5,428.2 659.5,427.1 666.5,426.5 673.5,426.5" fill="none" stroke="#e0e020" stroke-width="1" shape-rendering="crispEdges"/><polyline points="71.5,439.3 78.5,436 85.5,433.2 92.5,430.5 99.5,430.2 106.5,428.8 113.5,428.5 120.5,424.9 127.5,421 134.5,419.4 141.5,415.5 148.5,411.9 155.5,409.4 162.5,409.4 169.5,408.2 176.5,409.4 183.5,408.2 190.5,408.9 197.5,411.6 204.5,409.9 211.5,410.6 218.5,410.6 225.5,406.1 232.5,401.9 239.5,398.9 246.5,396.1 253.5,397.3 260.5,396.6 267.5,395.3 274.5,391.9 281.5,388.3 288.5,386.6 295.5,384.5 302.5,383.3 309.5,381.6 316.5,380 323.5,379.5 330.5,379.5 337.5,379.5 344.5,379.5 351.5,380.3 358.5,380.6 365.5,385 372.5,387.8 379.5,390 386.5,391.6 393.5,393.3 400.5,394.9 407.5,398.6 414.5,402.8 421.5,406.9 428.5,414.4 435.5,426 442.5,436 449.5,442.6 456.5,447.1 463.5,451 470.5,453.8 477.5,455.9 484.5,457.1 491.5,458.1 498.5,458.1 505.5,456.8 512.5,454.8 519.5,452.1 526.5,448.8 533.5,445.1 540.5,442.6 547.5,440.2 554.5,438.5 561.5,436.8 568.5,433.2 575.5,428.8 582.5,428.5 589.5,427.2 596.5,426.5 603.5,427.5 610.5,427.5 617.5,427.5 624.5,428.5 631.5,428.6 638.5,428.6 645.5,425.5 652.5,424.6 659.5,424.6 666.5,424.6 673.5,424.5" fill="none" stroke="#ececec" stroke-width="1" shape-rendering="crispEdges"/>
<polyline points="71.5,533.6 78.5,529.6 85.5,525.2 92.5,522.9 99.5,521.6 106.5,520.8 113.5,520.3 120.5,519.6 127.5,519.1 134.5,518.6 141.5,517.9 148.5,516.9 155.5,516.3 162.5,516.9 169.5,517.9 176.5,518.6 183.5,520.1 190.5,524.9 197.5,528.6 204.5,529.1 211.5,529.6 218.5,528.6 225.5,526.9 232.5,524.1 239.5,521.6 246.5,519.6 253.5,519.1 260.5,519.1 267.5,517.4 274.5,515.3 281.5,514.1 288.5,514.1 295.5,514.1 302.5,513.8 309.5,513.1 316.5,511.9 323.5,512.4 330.5,512.9 337.5,513.3 344.5,513.3 351.5,514.6 358.5,515.8 365.5,520.8 372.5,524.6 379.5,525.7 386.5,526.9 393.5,527.9 400.5,529.1 407.5,530.7 414.5,533.6 421.5,537.4 428.5,540.3 435.5,546.2 442.5,549.5 449.5,552.3 456.5,554 463.5,555.7 470.5,556.8 477.5,557.3 484.5,557.3 491.5,557.3 498.5,554 505.5,549 512.5,542.9 519.5,536.9 526.5,532.4 533.5,529.1 540.5,526.9 547.5,524.1 554.5,522.4 561.5,520.8 568.5,518.6 575.5,516.9 582.5,519.1 589.5,521.6 596.5,525.2 603.5,529.6 610.5,533.6 617.5,536.9 624.5,540.2 631.5,543.5 638.5,544.4 645.5,540.8 652.5,538.8 659.5,537.1 666.5,536.4 673.5,536.2" fill="none" stroke="#e0e020" stroke-width="1" shape-rendering="crispEdges"/><polyline points="71.5,524.6 78.5,521.3 85.5,516.6 92.5,515.3 99.5,518.6 106.5,517.9 113.5,520.8 120.5,519.1 127.5,516.9 134.5,518.3 141.5,516.3 148.5,514.6 155.5,515.8 162.5,517.9 169.5,518.6 176.5,521.6 183.5,524.5 190.5,529.9 197.5,536.2 204.5,529.1 211.5,529.9 218.5,527.9 225.5,521.3 232.5,518.6 239.5,516.6 246.5,514.6 253.5,518.3 260.5,519.6 267.5,514.9 274.5,512.4 281.5,511.3 288.5,514.1 295.5,514.1 302.5,512.6 309.5,511.6 316.5,509.9 323.5,511.9 330.5,514.1 337.5,514.6 344.5,513.3 351.5,516.9 358.5,516.3 365.5,531.2 372.5,531.2 379.5,528.2 386.5,528.2 393.5,529.6 400.5,528.6 407.5,534 414.5,538.5 421.5,543.7 428.5,549.8 435.5,554.5 442.5,558.2 449.5,558.5 456.5,559 463.5,559.5 470.5,559.5 477.5,558.2 484.5,557.3 491.5,557.8 498.5,549.8 505.5,542.9 512.5,535.7 519.5,526.9 526.5,525.2 533.5,522.4 540.5,521.3 547.5,519.6 554.5,518.6 561.5,517.9 568.5,514.6 575.5,513.3 582.5,520.8 589.5,525.7 596.5,529.6 603.5,537.4 610.5,539.9 617.5,542.9 624.5,546.5 631.5,550.2 638.5,546.3 645.5,535.4 652.5,534.2 659.5,534.4 666.5,534.8 673.5,536" fill="none" stroke="#ececec" stroke-width="1" shape-rendering="crispEdges"/><polyline points="71.5,504.6 78.5,502 85.5,498 92.5,505 99.5,515.3 106.5,513.6 113.5,525.2 120.5,515.8 127.5,512.4 134.5,518.3 141.5,516.3 148.5,509.6 155.5,512.9 162.5,519.1 169.5,521.3 176.5,524.9 183.5,532.6 190.5,543 197.5,553.2 204.5,529.9 211.5,533.2 218.5,527.4 225.5,511.3 232.5,508.3 239.5,506.6 246.5,505.3 253.5,518.3 260.5,519.6 267.5,509.1 274.5,504.6 281.5,504.6 288.5,514.1 295.5,514.1 302.5,512.6 309.5,511 316.5,506.3 323.5,511.9 330.5,517.4 337.5,516.3 344.5,513.3 351.5,521.3 358.5,520.3 365.5,552.8 372.5,544 379.5,534 386.5,533.6 393.5,535.2 400.5,528.6 407.5,540.2 414.5,547.3 421.5,557.3 428.5,567 435.5,572.8 442.5,574.4 449.5,570.1 456.5,566.8 463.5,564.8 470.5,563.1 477.5,559.8 484.5,557.3 491.5,557.8 498.5,539.9 505.5,528.2 512.5,515.8 519.5,500.3 526.5,505.3 533.5,505.8 540.5,508.1 547.5,507 554.5,508.6 561.5,511.3 568.5,505.3 575.5,505.3 582.5,523.2 589.5,534 596.5,544 603.5,554 610.5,554.8 617.5,558.5 624.5,563 631.5,563.5 638.5,550 645.5,523.8 652.5,525.6 659.5,527.8 666.5,532 673.5,536" fill="none" stroke="#e030e0" stroke-width="1" shape-rendering="crispEdges"/>
<text x="8" y="555" font-size="18" fill="#b0b0b0" style="font-family:'Liberation Serif',serif">第一纸白银分析网</text>
<text x="10" y="576.5" font-size="15" fill="#b0b0b0" stroke="#b0b0b0" stroke-width="0.3" style="font-family:'Liberation Mono',monospace">www.diyizby.com</text>
<text x="63" y="25.5" class="ax" text-anchor="end" fill="#e8323f">1939.77</text><text x="709" y="25.5" class="ax" text-anchor="start" fill="#e8323f">1939.77</text><text x="63" y="81.3" class="ax" text-anchor="end" fill="#e8323f">1901.25</text><text x="709" y="81.3" class="ax" text-anchor="start" fill="#e8323f">1901.25</text><text x="63" y="137.1" class="ax" text-anchor="end" fill="#e8323f">1862.73</text><text x="709" y="137.1" class="ax" text-anchor="start" fill="#e8323f">1862.73</text><text x="63" y="192.89999999999998" class="ax" text-anchor="end" fill="#e8323f">1824.21</text><text x="709" y="192.89999999999998" class="ax" text-anchor="start" fill="#e8323f">1824.21</text><text x="63" y="248.7" class="ax" text-anchor="end" fill="#e8323f">1785.69</text><text x="709" y="248.7" class="ax" text-anchor="start" fill="#e8323f">1785.69</text><text x="63" y="304.5" class="ax" text-anchor="end" fill="#e8323f">1747.17</text><text x="709" y="304.5" class="ax" text-anchor="start" fill="#e8323f">1747.17</text><text x="63" y="382.5" class="ax" text-anchor="end" fill="#e8323f">32.28</text><text x="709" y="382.5" class="ax" text-anchor="start" fill="#e8323f">32.28</text><text x="63" y="406.5" class="ax" text-anchor="end" fill="#e8323f">15.08</text><text x="709" y="406.5" class="ax" text-anchor="start" fill="#e8323f">15.08</text><text x="63" y="430.5" class="ax" text-anchor="end" fill="#e8323f">-2.13</text><text x="709" y="430.5" class="ax" text-anchor="start" fill="#e8323f">-2.13</text><text x="63" y="454.5" class="ax" text-anchor="end" fill="#e8323f">-19.33</text><text x="709" y="454.5" class="ax" text-anchor="start" fill="#e8323f">-19.33</text><text x="63" y="501.5" class="ax" text-anchor="end" fill="#e8323f">111.30</text><text x="709" y="501.5" class="ax" text-anchor="start" fill="#e8323f">111.30</text><text x="63" y="527.5" class="ax" text-anchor="end" fill="#e8323f">69.62</text><text x="709" y="527.5" class="ax" text-anchor="start" fill="#e8323f">69.62</text><text x="63" y="553.5" class="ax" text-anchor="end" fill="#e8323f">27.94</text><text x="709" y="553.5" class="ax" text-anchor="start" fill="#e8323f">27.94</text><text x="206" y="588" class="dt">2021/05</text><text x="353" y="588" class="dt">2021/06</text><text x="507" y="588" class="dt">2021/07</text><text x="661" y="588" class="dt">2021/08</text>
<text x="69.5" y="371.3" class="tt" fill="#e6ecf4" letter-spacing="0.25">MACD(26,12,9)</text>
<text x="160.5" y="371.3" class="tt" fill="#e6ecf4">DIFF:0.06</text>
<text x="220" y="371.3" class="tt" fill="#d8d820">DEA:-1.27</text>
<text x="284" y="371.3" class="tt" fill="#d030e0">MACD:2.65</text>
<text x="69.5" y="489.5" class="tt" fill="#e6ecf4">KDJ(9,3,3)</text>
<text x="130.5" y="489.5" class="tt" fill="#e6ecf4">K:49.82</text>
<text x="181" y="489.5" class="tt" fill="#d8d820">D:49.20</text>
<text x="231" y="489.5" class="tt" fill="#d030e0">J:51.07</text>
<text x="69" y="15" class="tt" fill="#f0f4fa">现货黄金</text>
<text x="118" y="15" class="tt" fill="#f0b040">&lt;</text><text x="125.5" y="15" class="tt" fill="#f0b040">日线</text><text x="150.5" y="15" class="tt" fill="#f0b040">&gt;</text>
<!-- buttons -->
<rect x="565.5" y="1.5" width="74" height="15" fill="none" stroke="#8c8c8c" stroke-width="1"/>
<text x="572.5" y="14" class="tt" fill="#a8a8a8">全部主题▼</text>
<rect x="643.5" y="2.5" width="13" height="13" fill="none" stroke="#8c8c8c"/>
<rect x="659.5" y="2.5" width="13" height="13" fill="none" stroke="#8c8c8c"/>
<rect x="675.5" y="2.5" width="13" height="13" fill="none" stroke="#8c8c8c"/>
<rect x="691.5" y="2.5" width="13" height="13" fill="none" stroke="#8c8c8c"/>
<!-- icon glyphs -->
<g fill="#a4a4a4">
<rect x="649" y="4" width="2" height="3"/><rect x="649" y="8" width="2" height="2"/><rect x="649" y="11" width="2" height="3"/>
<rect x="645" y="8" width="3" height="2"/><rect x="652" y="8" width="3" height="2"/>
</g>
<g stroke="#a4a4a4" stroke-width="1" fill="none">
<path d="M662.5 4.5 V12.5 M660.5 12.5 H671 M661 6 L662.5 4.5 L664 6 M669.5 11 L671 12.5 L669.5 14 M665.5 5 V11"/>
<path d="M678.5 4.5 V12.5 M676.5 12.5 H687 M677 6 L678.5 4.5 L680 6 M685.5 11 L687 12.5 L685.5 14"/>
<path d="M693.5 4.5 H696.5 V13.5 H693.5 Z M696.5 8.5 H701.5 M699.5 6.5 L701.5 8.5 L699.5 10.5"/>
</g>
<path d="M669.5 5 L666.5 8 L669.5 11 Z" fill="#a4a4a4"/>
<path d="M681 5 L686.5 8.5 L681 12 Z" fill="#a4a4a4"/>
<!-- red dot icon -->
<circle cx="6" cy="483" r="4.5" fill="#000"/>
<circle cx="6" cy="483" r="3.3" fill="#fff"/>
<circle cx="6" cy="483" r="2.1" fill="#ff0000"/>
<g fill="#ff0000">
<rect x="5" y="476" width="1.5" height="2.5"/><rect x="5" y="488" width="1.5" height="2.5"/>
<rect x="0" y="482" width="1.2" height="1.5"/><rect x="11" y="482" width="2" height="1.5"/>
</g>
<g stroke="#ff0000" stroke-width="1.3">
<line x1="0.3" y1="477.2" x2="2" y2="478.8"/><line x1="10.2" y1="478.8" x2="11.9" y2="477.2"/>
<line x1="0.3" y1="488.8" x2="2" y2="487.2"/><line x1="10.2" y1="487.2" x2="11.9" y2="488.8"/>
</g>
<!-- watermark -->
<text x="11" y="591" class="tt" font-weight="bold" fill="#f4b840">日线</text>
<path d="M42 590 L46.5 582 L51 590 Z" fill="#f0b030"/>
</svg>
</body></html>
